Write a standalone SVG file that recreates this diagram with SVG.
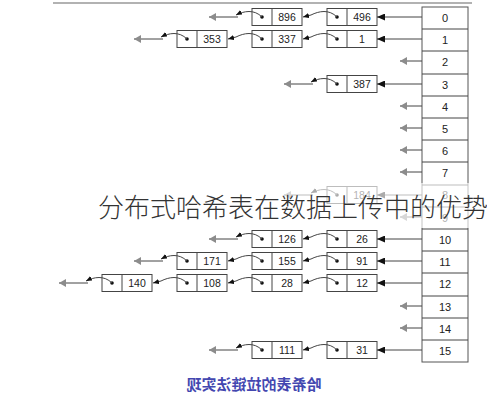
<svg xmlns="http://www.w3.org/2000/svg" width="487" height="400" viewBox="0 0 487 400">
<style>
.cell{fill:#fff;stroke:#444;stroke-width:1}
.div{stroke:#444;stroke-width:1}
.dot{fill:#111}
.val{font-family:"Liberation Sans",Arial,sans-serif;font-size:10.5px;fill:#222;text-anchor:middle}
.lab{font-family:"Liberation Sans",Arial,sans-serif;font-size:11px;fill:#222;text-anchor:middle}
.edge{fill:none;stroke:#444;stroke-width:1}
.tbl{fill:#fff;stroke:#555;stroke-width:1}
</style>
<defs>
<marker id="big" markerWidth="9" markerHeight="7" refX="8" refY="3.5" orient="auto" markerUnits="userSpaceOnUse"><path d="M0,0 L8,3.5 L0,7 z" fill="#111"/></marker>
<marker id="sm" markerWidth="7" markerHeight="6" refX="6" refY="2.5" orient="auto" markerUnits="userSpaceOnUse"><path d="M0,0 L6,2.5 L0,5 z" fill="#111"/></marker>
<marker id="nul" markerWidth="8" markerHeight="10" refX="7" refY="4.5" orient="auto" markerUnits="userSpaceOnUse"><path d="M0,0.5 L7,4.5 L0,8.5 z" fill="#8c8c8c"/></marker>
</defs>

<line x1="53" y1="3" x2="472" y2="3" stroke="#999" stroke-width="1.5"/>

<g id="hash-table">
<rect class="tbl" x="422" y="7" width="46" height="355"/>
<g class="div">
<line x1="422" y1="29" x2="468" y2="29"/><line x1="422" y1="51" x2="468" y2="51"/><line x1="422" y1="74" x2="468" y2="74"/><line x1="422" y1="96" x2="468" y2="96"/><line x1="422" y1="118" x2="468" y2="118"/><line x1="422" y1="140" x2="468" y2="140"/><line x1="422" y1="162" x2="468" y2="162"/><line x1="422" y1="185" x2="468" y2="185"/><line x1="422" y1="207" x2="468" y2="207"/><line x1="422" y1="229" x2="468" y2="229"/><line x1="422" y1="251" x2="468" y2="251"/><line x1="422" y1="273" x2="468" y2="273"/><line x1="422" y1="296" x2="468" y2="296"/><line x1="422" y1="318" x2="468" y2="318"/><line x1="422" y1="340" x2="468" y2="340"/>
</g>
<text class="lab" x="445" y="22">0</text>
<text class="lab" x="445" y="44">1</text>
<text class="lab" x="445" y="66">2</text>
<text class="lab" x="445" y="89">3</text>
<text class="lab" x="445" y="111">4</text>
<text class="lab" x="445" y="133">5</text>
<text class="lab" x="445" y="155">6</text>
<text class="lab" x="445" y="177">7</text>
<text class="lab" x="445" y="199">8</text>
<text class="lab" x="445" y="222">9</text>
<text class="lab" x="445" y="244">10</text>
<text class="lab" x="445" y="266">11</text>
<text class="lab" x="445" y="288">12</text>
<text class="lab" x="445" y="311">13</text>
<text class="lab" x="445" y="333">14</text>
<text class="lab" x="445" y="355">15</text>
</g>

<g id="n496"><rect class="cell" x="327" y="8.5" width="50" height="17"/><line class="div" x1="347" y1="8.5" x2="347" y2="25.5"/><circle class="dot" cx="337" cy="17" r="1.8"/><text class="val" x="362" y="20.5">496</text></g>
<g id="n896"><rect class="cell" x="252" y="8.5" width="50" height="17"/><line class="div" x1="272" y1="8.5" x2="272" y2="25.5"/><circle class="dot" cx="262" cy="17" r="1.8"/><text class="val" x="287" y="20.5">896</text></g>

<g id="n1"><rect class="cell" x="327" y="30.5" width="50" height="17"/><line class="div" x1="347" y1="30.5" x2="347" y2="47.5"/><circle class="dot" cx="337" cy="39" r="1.8"/><text class="val" x="362" y="42.5">1</text></g>
<g id="n337"><rect class="cell" x="252" y="30.5" width="50" height="17"/><line class="div" x1="272" y1="30.5" x2="272" y2="47.5"/><circle class="dot" cx="262" cy="39" r="1.8"/><text class="val" x="287" y="42.5">337</text></g>
<g id="n353"><rect class="cell" x="177" y="30.5" width="50" height="17"/><line class="div" x1="197" y1="30.5" x2="197" y2="47.5"/><circle class="dot" cx="187" cy="39" r="1.8"/><text class="val" x="212" y="42.5">353</text></g>

<g id="n387"><rect class="cell" x="327" y="75.5" width="50" height="17"/><line class="div" x1="347" y1="75.5" x2="347" y2="92.5"/><circle class="dot" cx="337" cy="84" r="1.8"/><text class="val" x="362" y="87.5">387</text></g>

<g id="n184"><rect class="cell" x="327" y="186.5" width="50" height="17"/><line class="div" x1="347" y1="186.5" x2="347" y2="203.5"/><circle class="dot" cx="337" cy="195" r="1.8"/><text class="val" x="362" y="198.5">184</text></g>

<g id="n26"><rect class="cell" x="327" y="230.5" width="50" height="17"/><line class="div" x1="347" y1="230.5" x2="347" y2="247.5"/><circle class="dot" cx="337" cy="239" r="1.8"/><text class="val" x="362" y="242.5">26</text></g>
<g id="n126"><rect class="cell" x="252" y="230.5" width="50" height="17"/><line class="div" x1="272" y1="230.5" x2="272" y2="247.5"/><circle class="dot" cx="262" cy="239" r="1.8"/><text class="val" x="287" y="242.5">126</text></g>

<g id="n91"><rect class="cell" x="327" y="252.5" width="50" height="17"/><line class="div" x1="347" y1="252.5" x2="347" y2="269.5"/><circle class="dot" cx="337" cy="261" r="1.8"/><text class="val" x="362" y="264.5">91</text></g>
<g id="n155"><rect class="cell" x="252" y="252.5" width="50" height="17"/><line class="div" x1="272" y1="252.5" x2="272" y2="269.5"/><circle class="dot" cx="262" cy="261" r="1.8"/><text class="val" x="287" y="264.5">155</text></g>
<g id="n171"><rect class="cell" x="177" y="252.5" width="50" height="17"/><line class="div" x1="197" y1="252.5" x2="197" y2="269.5"/><circle class="dot" cx="187" cy="261" r="1.8"/><text class="val" x="212" y="264.5">171</text></g>

<g id="n12"><rect class="cell" x="327" y="274.5" width="50" height="17"/><line class="div" x1="347" y1="274.5" x2="347" y2="291.5"/><circle class="dot" cx="337" cy="283" r="1.8"/><text class="val" x="362" y="286.5">12</text></g>
<g id="n28"><rect class="cell" x="252" y="274.5" width="50" height="17"/><line class="div" x1="272" y1="274.5" x2="272" y2="291.5"/><circle class="dot" cx="262" cy="283" r="1.8"/><text class="val" x="287" y="286.5">28</text></g>
<g id="n108"><rect class="cell" x="177" y="274.5" width="50" height="17"/><line class="div" x1="197" y1="274.5" x2="197" y2="291.5"/><circle class="dot" cx="187" cy="283" r="1.8"/><text class="val" x="212" y="286.5">108</text></g>
<g id="n140"><rect class="cell" x="102" y="274.5" width="50" height="17"/><line class="div" x1="122" y1="274.5" x2="122" y2="291.5"/><circle class="dot" cx="112" cy="283" r="1.8"/><text class="val" x="137" y="286.5">140</text></g>

<g id="n31"><rect class="cell" x="327" y="341.5" width="50" height="17"/><line class="div" x1="347" y1="341.5" x2="347" y2="358.5"/><circle class="dot" cx="337" cy="350" r="1.8"/><text class="val" x="362" y="353.5">31</text></g>
<g id="n111"><rect class="cell" x="252" y="341.5" width="50" height="17"/><line class="div" x1="272" y1="341.5" x2="272" y2="358.5"/><circle class="dot" cx="262" cy="350" r="1.8"/><text class="val" x="287" y="353.5">111</text></g>

<g id="connectors">
<line class="edge" x1="422" y1="17" x2="377" y2="17" marker-end="url(#big)"/>
<line class="edge" x1="422" y1="39" x2="377" y2="39" marker-end="url(#big)"/>
<line class="edge" x1="422" y1="84" x2="377" y2="84" marker-end="url(#big)"/>
<line class="edge" x1="422" y1="195" x2="377" y2="195" marker-end="url(#big)"/>
<line class="edge" x1="422" y1="239" x2="377" y2="239" marker-end="url(#big)"/>
<line class="edge" x1="422" y1="261" x2="377" y2="261" marker-end="url(#big)"/>
<line class="edge" x1="422" y1="283" x2="377" y2="283" marker-end="url(#big)"/>
<line class="edge" x1="422" y1="350" x2="377" y2="350" marker-end="url(#big)"/>
<line class="edge" x1="422" y1="61" x2="400" y2="61" marker-end="url(#nul)"/>
<line class="edge" x1="422" y1="106" x2="400" y2="106" marker-end="url(#nul)"/>
<line class="edge" x1="422" y1="128" x2="400" y2="128" marker-end="url(#nul)"/>
<line class="edge" x1="422" y1="150" x2="400" y2="150" marker-end="url(#nul)"/>
<line class="edge" x1="422" y1="172" x2="400" y2="172" marker-end="url(#nul)"/>
<line class="edge" x1="422" y1="217" x2="400" y2="217" marker-end="url(#nul)"/>
<line class="edge" x1="422" y1="306" x2="400" y2="306" marker-end="url(#nul)"/>
<line class="edge" x1="422" y1="328" x2="400" y2="328" marker-end="url(#nul)"/>
<path class="edge" d="M337,17 C329,9 319,11 311,15 L303,17" marker-end="url(#sm)"/>
<path class="edge" d="M262,17 C254,9 244,11 236,15" marker-end="url(#sm)"/>
<path class="edge" d="M238,17 L209,17" marker-end="url(#nul)"/>
<path class="edge" d="M337,39 C329,31 319,33 311,37 L303,39" marker-end="url(#sm)"/>
<path class="edge" d="M262,39 C254,31 244,33 236,37 L228,39" marker-end="url(#sm)"/>
<path class="edge" d="M187,39 C179,31 169,33 161,37" marker-end="url(#sm)"/>
<path class="edge" d="M163,39 L134,39" marker-end="url(#nul)"/>
<path class="edge" d="M337,84 C329,76 319,78 311,82" marker-end="url(#sm)"/>
<path class="edge" d="M313,84 L284,84" marker-end="url(#nul)"/>
<path class="edge" d="M337,195 C329,187 319,189 311,193" marker-end="url(#sm)"/>
<path class="edge" d="M313,195 L284,195" marker-end="url(#nul)"/>
<path class="edge" d="M337,239 C329,231 319,233 311,237 L303,239" marker-end="url(#sm)"/>
<path class="edge" d="M262,239 C254,231 244,233 236,237" marker-end="url(#sm)"/>
<path class="edge" d="M238,239 L209,239" marker-end="url(#nul)"/>
<path class="edge" d="M337,261 C329,253 319,255 311,259 L303,261" marker-end="url(#sm)"/>
<path class="edge" d="M262,261 C254,253 244,255 236,259 L228,261" marker-end="url(#sm)"/>
<path class="edge" d="M187,261 C179,253 169,255 161,259" marker-end="url(#sm)"/>
<path class="edge" d="M163,261 L134,261" marker-end="url(#nul)"/>
<path class="edge" d="M337,283 C329,275 319,277 311,281 L303,283" marker-end="url(#sm)"/>
<path class="edge" d="M262,283 C254,275 244,277 236,281 L228,283" marker-end="url(#sm)"/>
<path class="edge" d="M187,283 C179,275 169,277 161,281 L153,283" marker-end="url(#sm)"/>
<path class="edge" d="M112,283 C104,275 94,277 86,281" marker-end="url(#sm)"/>
<path class="edge" d="M88,283 L59,283" marker-end="url(#nul)"/>
<path class="edge" d="M337,350 C329,342 319,344 311,348 L303,350" marker-end="url(#sm)"/>
<path class="edge" d="M262,350 C254,342 244,344 236,348" marker-end="url(#sm)"/>
<path class="edge" d="M238,350 L209,350" marker-end="url(#nul)"/>
</g>

<rect x="0" y="183" width="487" height="45" fill="#fff" opacity="0.65"/>
<text x="98" y="217" font-family="'Noto Sans CJK SC','Noto Sans',sans-serif" font-size="26" font-weight="300" fill="#333">分布式哈希表在数据上传中的优势</text>

<text transform="translate(254,390) scale(-1,1)" text-anchor="middle" font-family="'Noto Sans CJK SC',sans-serif" font-size="15" font-weight="bold" fill="#4347b0">哈希表的拉链法实现</text>
</svg>
